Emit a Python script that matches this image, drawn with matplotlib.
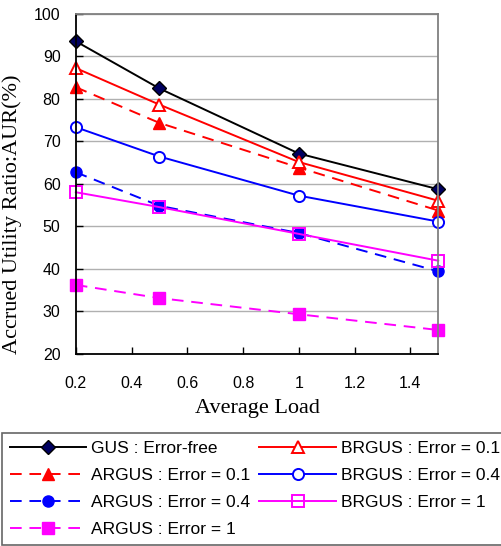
import matplotlib
matplotlib.use('Agg')
import matplotlib.pyplot as plt

# data
loads = [0.2, 0.5, 1.0, 1.5]
gus_free = [93.5, 82.4, 67.1, 58.7]
brgus_01 = [87.2, 78.6, 65.1, 56.0]
argus_01 = [82.7, 74.3, 63.8, 53.7]
brgus_04 = [73.3, 66.4, 57.2, 51.1]
argus_04 = [62.7, 54.8, 48.4, 39.4]
brgus_1 = [58.0, 54.5, 48.2, 41.9]
argus_1 = [36.2, 33.1, 29.3, 25.6]

xticks = [0.2, 0.4, 0.6, 0.8, 1.0, 1.2, 1.4]
xtick_labels = ['0.2', '0.4', '0.6', '0.8', '1', '1.2', '1.4']
yticks = [20, 30, 40, 50, 60, 70, 80, 90, 100]

fig = plt.figure(figsize=(5.02, 5.46), dpi=100)
ax = fig.add_axes([0.151, 0.352, 0.722, 0.623])

dash = (0, (6, 4))
lw = 1.4
ms = 8

h_gus, = ax.plot(loads, gus_free, color='black', lw=lw, marker='D', ms=7,
                 mfc='#000060', mec='black', label='GUS : Error-free')
h_a01, = ax.plot(loads, argus_01, color='red', lw=lw, ls=dash, marker='^', ms=ms + 1,
                 mfc='red', mec='red', label='ARGUS : Error = 0.1')
h_b01, = ax.plot(loads, brgus_01, color='red', lw=lw, marker='^', ms=ms + 1,
                 mfc='white', mec='red', mew=1.4, label='BRGUS : Error = 0.1')
h_b04, = ax.plot(loads, brgus_04, color='blue', lw=lw, marker='o', ms=ms,
                 mfc='white', mec='blue', mew=1.4, label='BRGUS : Error = 0.4')
h_a04, = ax.plot(loads, argus_04, color='blue', lw=lw, ls=dash, marker='o', ms=ms,
                 mfc='blue', mec='blue', label='ARGUS : Error = 0.4')
h_b1, = ax.plot(loads, brgus_1, color='magenta', lw=lw, marker='s', ms=ms,
                mfc='none', mec='magenta', mew=1.4, label='BRGUS : Error = 1')
h_a1, = ax.plot(loads, argus_1, color='magenta', lw=lw, ls=dash, marker='s', ms=ms,
                mfc='magenta', mec='magenta', label='ARGUS : Error = 1')

for ln in ax.lines:
    ln.set_clip_on(False)

ax.set_xlim(0.2, 1.5)
ax.set_ylim(20, 100)
ax.set_xticks(xticks)
ax.set_xticklabels(xtick_labels, family='Liberation Sans', fontsize=11.5)
ax.set_yticks(yticks)
ax.set_yticklabels([str(v) for v in yticks], family='Liberation Sans', fontsize=11.5)
ax.tick_params(direction='in', length=5, width=1)
ax.tick_params(axis='x', pad=16)
ax.tick_params(axis='y', pad=11)
ax.yaxis.grid(True, color='#b0b0b0', lw=1)
ax.set_axisbelow(True)

ax.spines['left'].set_color('black')
ax.spines['bottom'].set_color('black')
ax.spines['top'].set_color('#808080')
ax.spines['right'].set_color('#808080')
for s in ax.spines.values():
    s.set_linewidth(1.3)

ax.set_xlabel('Average Load', family='Liberation Serif', fontsize=16, labelpad=6)
ax.set_ylabel('Accrued Utility Ratio:AUR(%)', family='Liberation Serif', fontsize=16)
ax.yaxis.set_label_coords(-0.148, 0.41)

handles = [h_gus, h_a01, h_a04, h_a1, h_b01, h_b04, h_b1]
leg = fig.legend(handles=handles, loc='upper left', bbox_to_anchor=(0.004, 0.207),
                 ncol=2, prop={'family': 'Liberation Sans', 'size': 12.5},
                 frameon=True, fancybox=False, edgecolor='#404040',
                 handlelength=4.4, handletextpad=0.3, columnspacing=0.5,
                 labelspacing=0.68, borderpad=0.45, borderaxespad=0)
leg.get_frame().set_linewidth(1.2)

fig.savefig('out.png', dpi=100)
